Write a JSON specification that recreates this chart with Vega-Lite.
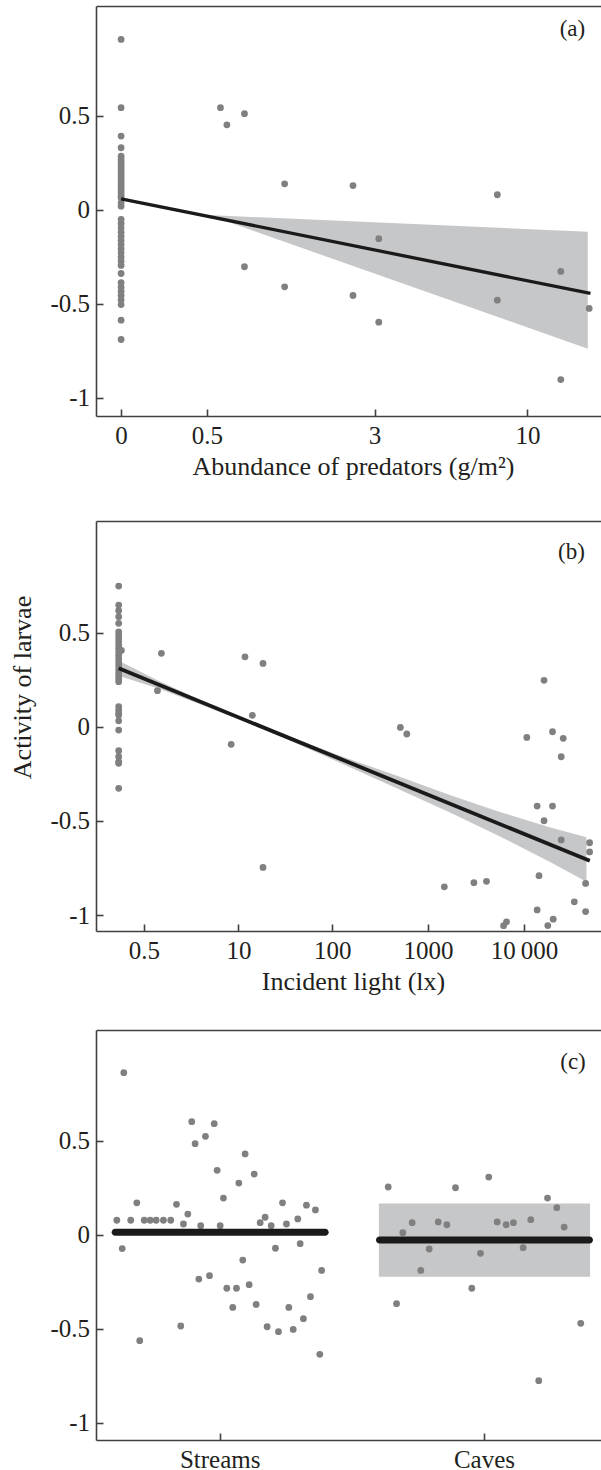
{
  "$schema": "https://vega.github.io/schema/vega-lite/v6.json",
  "padding": {"left": 9, "top": 6, "right": 0, "bottom": 0},
  "config": {
    "view": {"stroke": null},
    "font": "Liberation Serif",
    "axis": {
      "labelFont": "Liberation Serif", "titleFont": "Liberation Serif",
      "labelFontSize": 25, "titleFontSize": 26, "titleFontWeight": "normal",
      "labelColor": "#231f20", "titleColor": "#231f20",
      "domainColor": "#404040", "domainWidth": 1.6,
      "tickColor": "#404040", "tickWidth": 1.6, "tickSize": -7,
      "labelPadding": 14, "grid": false, "labelOverlap": false, "labelFlush": false
    },
    "axisY": {"labelPadding": 13.5}
  },
  "spacing": 36,
  "vconcat": [
    {
      "spacing": 42,
      "vconcat": [
        {
          "width": 505, "height": 410,
          "resolve": {"axis": {"x": "independent"}},
          "layer": [
            {
              "data": {"values": [
                {"predators": 0.513, "lower": -0.027, "upper": -0.027},
                {"predators": 15.64, "lower": -0.738, "upper": -0.116}
              ]},
              "mark": {"type": "area", "color": "#c6c7c9", "opacity": 1},
              "encoding": {
                "x": {"field": "predators", "type": "quantitative",
                      "scale": {"type": "symlog", "constant": 0.6, "domain": [-0.1165, 17.23], "nice": false, "zero": false},
                      "axis": {"values": [0, 0.5, 3, 10], "labelExpr": "toString(datum.value)", "title": "Abundance of predators (g/m²)", "titlePadding": 5, "titleX": 257}},
                "y": {"field": "lower", "type": "quantitative",
                      "scale": {"domain": [-1.096, 1.085], "nice": false, "zero": false},
                      "axis": {"values": [-1, -0.5, 0, 0.5], "labelExpr": "toString(datum.value)", "title": "Activity of larvae", "titlePadding": 14, "titleColor": "#ffffff"}},
                "y2": {"field": "upper"}
              }
            },
            {
              "data": {"values": [
                {"predators": 0, "activity": 0.907}, {"predators": 0, "activity": 0.544}, {"predators": 0, "activity": 0.393},
                {"predators": 0, "activity": 0.331}, {"predators": 0, "activity": 0.286}, {"predators": 0, "activity": 0.272},
                {"predators": 0, "activity": 0.258}, {"predators": 0, "activity": 0.244}, {"predators": 0, "activity": 0.230},
                {"predators": 0, "activity": 0.216}, {"predators": 0, "activity": 0.202}, {"predators": 0, "activity": 0.188},
                {"predators": 0, "activity": 0.174}, {"predators": 0, "activity": 0.160}, {"predators": 0, "activity": 0.146},
                {"predators": 0, "activity": 0.132}, {"predators": 0, "activity": 0.118}, {"predators": 0, "activity": 0.104},
                {"predators": 0, "activity": 0.090}, {"predators": 0, "activity": 0.076}, {"predators": 0, "activity": 0.065},
                {"predators": 0, "activity": 0.038}, {"predators": 0, "activity": 0.020}, {"predators": 0, "activity": -0.050},
                {"predators": 0, "activity": -0.072}, {"predators": 0, "activity": -0.095}, {"predators": 0, "activity": -0.118},
                {"predators": 0, "activity": -0.140}, {"predators": 0, "activity": -0.162}, {"predators": 0, "activity": -0.184},
                {"predators": 0, "activity": -0.206}, {"predators": 0, "activity": -0.228}, {"predators": 0, "activity": -0.250},
                {"predators": 0, "activity": -0.272}, {"predators": 0, "activity": -0.295}, {"predators": 0, "activity": -0.338},
                {"predators": 0, "activity": -0.387}, {"predators": 0, "activity": -0.410}, {"predators": 0, "activity": -0.432},
                {"predators": 0, "activity": -0.455}, {"predators": 0, "activity": -0.478}, {"predators": 0, "activity": -0.503},
                {"predators": 0, "activity": -0.586}, {"predators": 0, "activity": -0.689},
                {"predators": 0.611, "activity": 0.544}, {"predators": 0.667, "activity": 0.453},
                {"predators": 0.835, "activity": 0.512}, {"predators": 1.306, "activity": 0.139},
                {"predators": 2.49, "activity": 0.13}, {"predators": 7.97, "activity": 0.081},
                {"predators": 3.107, "activity": -0.153}, {"predators": 0.835, "activity": -0.302},
                {"predators": 1.306, "activity": -0.409}, {"predators": 2.49, "activity": -0.455},
                {"predators": 3.107, "activity": -0.597}, {"predators": 12.82, "activity": -0.327},
                {"predators": 7.97, "activity": -0.48}, {"predators": 15.8, "activity": -0.524},
                {"predators": 12.82, "activity": -0.902}
              ]},
              "mark": {"type": "circle", "size": 46, "color": "#808080", "opacity": 1},
              "encoding": {
                "x": {"field": "predators", "type": "quantitative",
                      "scale": {"type": "symlog", "constant": 0.6, "domain": [-0.1165, 17.23], "nice": false, "zero": false},
                      "axis": {"orient": "top", "labels": false, "ticks": false, "title": null, "domain": true}},
                "y": {"field": "activity", "type": "quantitative",
                      "axis": {"values": [-1, -0.5, 0, 0.5], "labelExpr": "toString(datum.value)", "title": "Activity of larvae", "titlePadding": 14, "titleColor": "#ffffff"}}
              }
            },
            {
              "data": {"values": [
                {"predators": 0, "activity": 0.059},
                {"predators": 15.95, "activity": -0.444}
              ]},
              "mark": {"type": "line", "color": "#1a1a1a", "strokeWidth": 3.3},
              "encoding": {
                "x": {"field": "predators", "type": "quantitative", "axis": null},
                "y": {"field": "activity", "type": "quantitative",
                      "axis": {"values": [-1, -0.5, 0, 0.5], "labelExpr": "toString(datum.value)", "title": "Activity of larvae", "titlePadding": 14, "titleColor": "#ffffff"}}
              }
            },
            {
              "data": {"values": [{"label": "(a)"}]},
              "mark": {"type": "text", "fontSize": 23, "font": "Liberation Serif", "color": "#231f20", "align": "center", "baseline": "middle"},
              "encoding": {
                "x": {"datum": 13.97, "type": "quantitative", "axis": null},
                "y": {"datum": 0.965, "type": "quantitative",
                      "axis": {"values": [-1, -0.5, 0, 0.5], "labelExpr": "toString(datum.value)", "title": "Activity of larvae", "titlePadding": 14, "titleColor": "#ffffff"}},
                "text": {"field": "label"}
              }
            }
          ]
        },
        {
          "width": 505, "height": 410,
          "resolve": {"axis": {"x": "independent"}},
          "layer": [
            {
              "data": {"values": [
                {"light": 0, "lower": 0.271, "upper": 0.351},
                {"light": 1.035, "lower": 0.200, "upper": 0.240},
                {"light": 3.667, "lower": 0.119, "upper": 0.143},
                {"light": 13.55, "lower": 0.0145, "upper": 0.0305},
                {"light": 46.4, "lower": -0.098, "upper": -0.074},
                {"light": 137.6, "lower": -0.204, "upper": -0.164},
                {"light": 516.3, "lower": -0.336, "upper": -0.266},
                {"light": 1712, "lower": -0.457, "upper": -0.363},
                {"light": 5687, "lower": -0.5835, "upper": -0.4535},
                {"light": 18857, "lower": -0.719, "upper": -0.535},
                {"light": 44650, "lower": -0.823, "upper": -0.587}
              ]},
              "mark": {"type": "area", "color": "#c6c7c9", "opacity": 1},
              "encoding": {
                "x": {"field": "light", "type": "quantitative",
                      "scale": {"type": "symlog", "constant": 0.6, "domain": [-0.434, 63273], "nice": false, "zero": false},
                      "axis": {"values": [0.5, 10, 100, 1000, 10000], "labelExpr": "datum.value == 10000 ? '10\u2009000' : toString(datum.value)", "title": "Incident light (lx)", "titlePadding": 5, "titleX": 257}},
                "y": {"field": "lower", "type": "quantitative",
                      "scale": {"domain": [-1.085, 1.094], "nice": false, "zero": false},
                      "axis": {"values": [-1, -0.5, 0, 0.5], "labelExpr": "toString(datum.value)", "title": "Activity of larvae", "titlePadding": 14, "titleY": 166}},
                "y2": {"field": "upper"}
              }
            },
            {
              "data": {"values": [
                {"light": 0, "activity": 0.748}, {"light": 0, "activity": 0.647}, {"light": 0, "activity": 0.617},
                {"light": 0, "activity": 0.585}, {"light": 0, "activity": 0.550}, {"light": 0, "activity": 0.505},
                {"light": 0, "activity": 0.488}, {"light": 0, "activity": 0.470}, {"light": 0, "activity": 0.452},
                {"light": 0, "activity": 0.434}, {"light": 0, "activity": 0.416}, {"light": 0, "activity": 0.398},
                {"light": 0, "activity": 0.380}, {"light": 0, "activity": 0.362}, {"light": 0, "activity": 0.344},
                {"light": 0, "activity": 0.326}, {"light": 0, "activity": 0.308}, {"light": 0, "activity": 0.290},
                {"light": 0, "activity": 0.272}, {"light": 0, "activity": 0.256}, {"light": 0, "activity": 0.240},
                {"light": 0, "activity": 0.107}, {"light": 0, "activity": 0.089}, {"light": 0, "activity": 0.072},
                {"light": 0, "activity": 0.063}, {"light": 0, "activity": 0.032}, {"light": 0, "activity": -0.017},
                {"light": 0, "activity": -0.127}, {"light": 0, "activity": -0.159}, {"light": 0, "activity": -0.185},
                {"light": 0, "activity": -0.194}, {"light": 0, "activity": -0.327},
                {"light": 0.04, "activity": 0.406},
                {"light": 1.07, "activity": 0.391}, {"light": 0.92, "activity": 0.192},
                {"light": 11.8, "activity": 0.372}, {"light": 18.5, "activity": 0.337},
                {"light": 14.2, "activity": 0.061}, {"light": 8.3, "activity": -0.093},
                {"light": 18.5, "activity": -0.747}, {"light": 514, "activity": -0.003},
                {"light": 600, "activity": -0.038}, {"light": 10680, "activity": -0.056},
                {"light": 19780, "activity": -0.026}, {"light": 25570, "activity": -0.061},
                {"light": 16140, "activity": 0.247}, {"light": 24370, "activity": -0.159},
                {"light": 13680, "activity": -0.421}, {"light": 19780, "activity": -0.421},
                {"light": 16140, "activity": -0.499}, {"light": 24370, "activity": -0.601},
                {"light": 48150, "activity": -0.616}, {"light": 48150, "activity": -0.665},
                {"light": 1476, "activity": -0.85}, {"light": 3001, "activity": -0.828},
                {"light": 4060, "activity": -0.821}, {"light": 14310, "activity": -0.791},
                {"light": 43750, "activity": -0.832}, {"light": 33360, "activity": -0.93},
                {"light": 13680, "activity": -0.973}, {"light": 43750, "activity": -0.982},
                {"light": 20110, "activity": -1.022}, {"light": 6562, "activity": -1.036},
                {"light": 6119, "activity": -1.057}, {"light": 17670, "activity": -1.056}
              ]},
              "mark": {"type": "circle", "size": 46, "color": "#808080", "opacity": 1},
              "encoding": {
                "x": {"field": "light", "type": "quantitative",
                      "scale": {"type": "symlog", "constant": 0.6, "domain": [-0.434, 63273], "nice": false, "zero": false},
                      "axis": {"orient": "top", "labels": false, "ticks": false, "title": null, "domain": true}},
                "y": {"field": "activity", "type": "quantitative",
                      "axis": {"values": [-1, -0.5, 0, 0.5], "labelExpr": "toString(datum.value)", "title": "Activity of larvae", "titlePadding": 14, "titleY": 166}}
              }
            },
            {
              "data": {"values": [
                {"light": 0, "activity": 0.311},
                {"light": 48350, "activity": -0.712}
              ]},
              "mark": {"type": "line", "color": "#1a1a1a", "strokeWidth": 3.8},
              "encoding": {
                "x": {"field": "light", "type": "quantitative", "axis": null},
                "y": {"field": "activity", "type": "quantitative",
                      "axis": {"values": [-1, -0.5, 0, 0.5], "labelExpr": "toString(datum.value)", "title": "Activity of larvae", "titlePadding": 14, "titleY": 166}}
              }
            },
            {
              "data": {"values": [{"label": "(b)"}]},
              "mark": {"type": "text", "fontSize": 23, "font": "Liberation Serif", "color": "#231f20", "align": "center", "baseline": "middle"},
              "encoding": {
                "x": {"datum": 31200, "type": "quantitative", "axis": null},
                "y": {"datum": 0.93, "type": "quantitative",
                      "axis": {"values": [-1, -0.5, 0, 0.5], "labelExpr": "toString(datum.value)", "title": "Activity of larvae", "titlePadding": 14, "titleY": 166}},
                "text": {"field": "label"}
              }
            }
          ]
        }
      ]
    },
    {
      "width": 505, "height": 410,
      "resolve": {"axis": {"x": "independent"}, "scale": {"xOffset": "independent"}},
      "layer": [
        {
          "data": {"values": [{"habitat": "Caves", "lower": -0.223, "upper": 0.167}]},
          "mark": {"type": "bar", "color": "#c6c7c9", "opacity": 1, "width": {"band": 0.94}},
          "encoding": {
            "x": {"field": "habitat", "type": "nominal",
                  "scale": {"type": "band", "domain": ["Streams", "Caves"], "paddingInner": 0.15, "paddingOuter": 0.0303, "align": 0.739},
                  "axis": {"labelAngle": 0, "title": null}},
            "y": {"field": "lower", "type": "quantitative",
                  "scale": {"domain": [-1.092, 1.091], "nice": false, "zero": false},
                  "axis": {"values": [-1, -0.5, 0, 0.5], "labelExpr": "toString(datum.value)", "title": "Activity of larvae", "titlePadding": 14, "titleColor": "#ffffff"}},
            "y2": {"field": "upper"}
          }
        },
        {
          "data": {"values": [
            {"habitat": "Streams", "jitter": -0.858, "activity": 0.864},
            {"habitat": "Streams", "jitter": -0.920, "activity": 0.078},
            {"habitat": "Streams", "jitter": -0.872, "activity": -0.073},
            {"habitat": "Streams", "jitter": -0.796, "activity": 0.078},
            {"habitat": "Streams", "jitter": -0.742, "activity": 0.171},
            {"habitat": "Streams", "jitter": -0.716, "activity": -0.563},
            {"habitat": "Streams", "jitter": -0.676, "activity": 0.078},
            {"habitat": "Streams", "jitter": -0.623, "activity": 0.078},
            {"habitat": "Streams", "jitter": -0.570, "activity": 0.078},
            {"habitat": "Streams", "jitter": -0.505, "activity": 0.078},
            {"habitat": "Streams", "jitter": -0.440, "activity": 0.078},
            {"habitat": "Streams", "jitter": -0.389, "activity": 0.163},
            {"habitat": "Streams", "jitter": -0.351, "activity": -0.485},
            {"habitat": "Streams", "jitter": -0.327, "activity": 0.058},
            {"habitat": "Streams", "jitter": -0.288, "activity": 0.111},
            {"habitat": "Streams", "jitter": -0.253, "activity": 0.603},
            {"habitat": "Streams", "jitter": -0.223, "activity": 0.486},
            {"habitat": "Streams", "jitter": -0.190, "activity": -0.235},
            {"habitat": "Streams", "jitter": -0.173, "activity": 0.049},
            {"habitat": "Streams", "jitter": -0.131, "activity": 0.525},
            {"habitat": "Streams", "jitter": -0.095, "activity": -0.217},
            {"habitat": "Streams", "jitter": -0.053, "activity": 0.592},
            {"habitat": "Streams", "jitter": -0.027, "activity": 0.344},
            {"habitat": "Streams", "jitter": 0.000, "activity": 0.049},
            {"habitat": "Streams", "jitter": 0.029, "activity": 0.196},
            {"habitat": "Streams", "jitter": 0.059, "activity": -0.284},
            {"habitat": "Streams", "jitter": 0.112, "activity": -0.386},
            {"habitat": "Streams", "jitter": 0.145, "activity": -0.284},
            {"habitat": "Streams", "jitter": 0.166, "activity": 0.276},
            {"habitat": "Streams", "jitter": 0.201, "activity": -0.134},
            {"habitat": "Streams", "jitter": 0.222, "activity": 0.431},
            {"habitat": "Streams", "jitter": 0.258, "activity": -0.265},
            {"habitat": "Streams", "jitter": 0.303, "activity": 0.324},
            {"habitat": "Streams", "jitter": 0.320, "activity": -0.370},
            {"habitat": "Streams", "jitter": 0.356, "activity": 0.065},
            {"habitat": "Streams", "jitter": 0.400, "activity": 0.094},
            {"habitat": "Streams", "jitter": 0.418, "activity": -0.489},
            {"habitat": "Streams", "jitter": 0.454, "activity": 0.049},
            {"habitat": "Streams", "jitter": 0.492, "activity": -0.071},
            {"habitat": "Streams", "jitter": 0.519, "activity": -0.515},
            {"habitat": "Streams", "jitter": 0.555, "activity": 0.171},
            {"habitat": "Streams", "jitter": 0.590, "activity": 0.058},
            {"habitat": "Streams", "jitter": 0.611, "activity": -0.386},
            {"habitat": "Streams", "jitter": 0.650, "activity": -0.503},
            {"habitat": "Streams", "jitter": 0.691, "activity": 0.085},
            {"habitat": "Streams", "jitter": 0.712, "activity": -0.047},
            {"habitat": "Streams", "jitter": 0.741, "activity": -0.446},
            {"habitat": "Streams", "jitter": 0.768, "activity": 0.158},
            {"habitat": "Streams", "jitter": 0.804, "activity": -0.329},
            {"habitat": "Streams", "jitter": 0.848, "activity": 0.133},
            {"habitat": "Streams", "jitter": 0.887, "activity": -0.636},
            {"habitat": "Streams", "jitter": 0.903, "activity": -0.189},
            {"habitat": "Caves", "jitter": -0.857, "activity": 0.255},
            {"habitat": "Caves", "jitter": -0.783, "activity": -0.366},
            {"habitat": "Caves", "jitter": -0.727, "activity": 0.012},
            {"habitat": "Caves", "jitter": -0.644, "activity": 0.065},
            {"habitat": "Caves", "jitter": -0.567, "activity": -0.189},
            {"habitat": "Caves", "jitter": -0.492, "activity": -0.075},
            {"habitat": "Caves", "jitter": -0.412, "activity": 0.069},
            {"habitat": "Caves", "jitter": -0.335, "activity": 0.054},
            {"habitat": "Caves", "jitter": -0.258, "activity": 0.251},
            {"habitat": "Caves", "jitter": -0.113, "activity": -0.284},
            {"habitat": "Caves", "jitter": -0.036, "activity": -0.098},
            {"habitat": "Caves", "jitter": 0.038, "activity": 0.308},
            {"habitat": "Caves", "jitter": 0.113, "activity": 0.069},
            {"habitat": "Caves", "jitter": 0.193, "activity": 0.054},
            {"habitat": "Caves", "jitter": 0.258, "activity": 0.065},
            {"habitat": "Caves", "jitter": 0.344, "activity": -0.068},
            {"habitat": "Caves", "jitter": 0.412, "activity": 0.081},
            {"habitat": "Caves", "jitter": 0.483, "activity": -0.776},
            {"habitat": "Caves", "jitter": 0.561, "activity": 0.196},
            {"habitat": "Caves", "jitter": 0.644, "activity": 0.145},
            {"habitat": "Caves", "jitter": 0.709, "activity": 0.042},
            {"habitat": "Caves", "jitter": 0.857, "activity": -0.471}
          ]},
          "mark": {"type": "circle", "size": 46, "color": "#808080", "opacity": 1},
          "encoding": {
            "x": {"field": "habitat", "type": "nominal",
                  "scale": {"type": "band", "domain": ["Streams", "Caves"], "paddingInner": 0.15, "paddingOuter": 0.0303, "align": 0.739},
                  "axis": {"orient": "top", "labels": false, "ticks": false, "title": null, "domain": true}},
            "xOffset": {"field": "jitter", "type": "quantitative", "scale": {"domain": [-1, 1]}},
            "y": {"field": "activity", "type": "quantitative",
                  "axis": {"values": [-1, -0.5, 0, 0.5], "labelExpr": "toString(datum.value)", "title": "Activity of larvae", "titlePadding": 14, "titleColor": "#ffffff"}}
          }
        },
        {
          "data": {"values": [
            {"habitat": "Streams", "activity": 0.014},
            {"habitat": "Caves", "activity": -0.027}
          ]},
          "mark": {"type": "tick", "size": 217, "thickness": 7, "color": "#1a1a1a", "cornerRadius": 3.5, "opacity": 1},
          "encoding": {
            "x": {"field": "habitat", "type": "nominal", "axis": null},
            "y": {"field": "activity", "type": "quantitative",
                  "axis": {"values": [-1, -0.5, 0, 0.5], "labelExpr": "toString(datum.value)", "title": "Activity of larvae", "titlePadding": 14, "titleColor": "#ffffff"}}
          }
        },
        {
          "data": {"values": [{"label": "(c)"}]},
          "mark": {"type": "text", "fontSize": 23, "font": "Liberation Serif", "color": "#231f20", "align": "center", "baseline": "middle"},
          "encoding": {
            "x": {"datum": "Caves", "type": "nominal", "axis": null},
            "xOffset": {"datum": 0.788, "type": "quantitative", "scale": {"domain": [-1, 1]}},
            "y": {"datum": 0.918, "type": "quantitative",
                  "axis": {"values": [-1, -0.5, 0, 0.5], "labelExpr": "toString(datum.value)", "title": "Activity of larvae", "titlePadding": 14, "titleColor": "#ffffff"}},
            "text": {"field": "label"}
          }
        }
      ]
    }
  ]
}
